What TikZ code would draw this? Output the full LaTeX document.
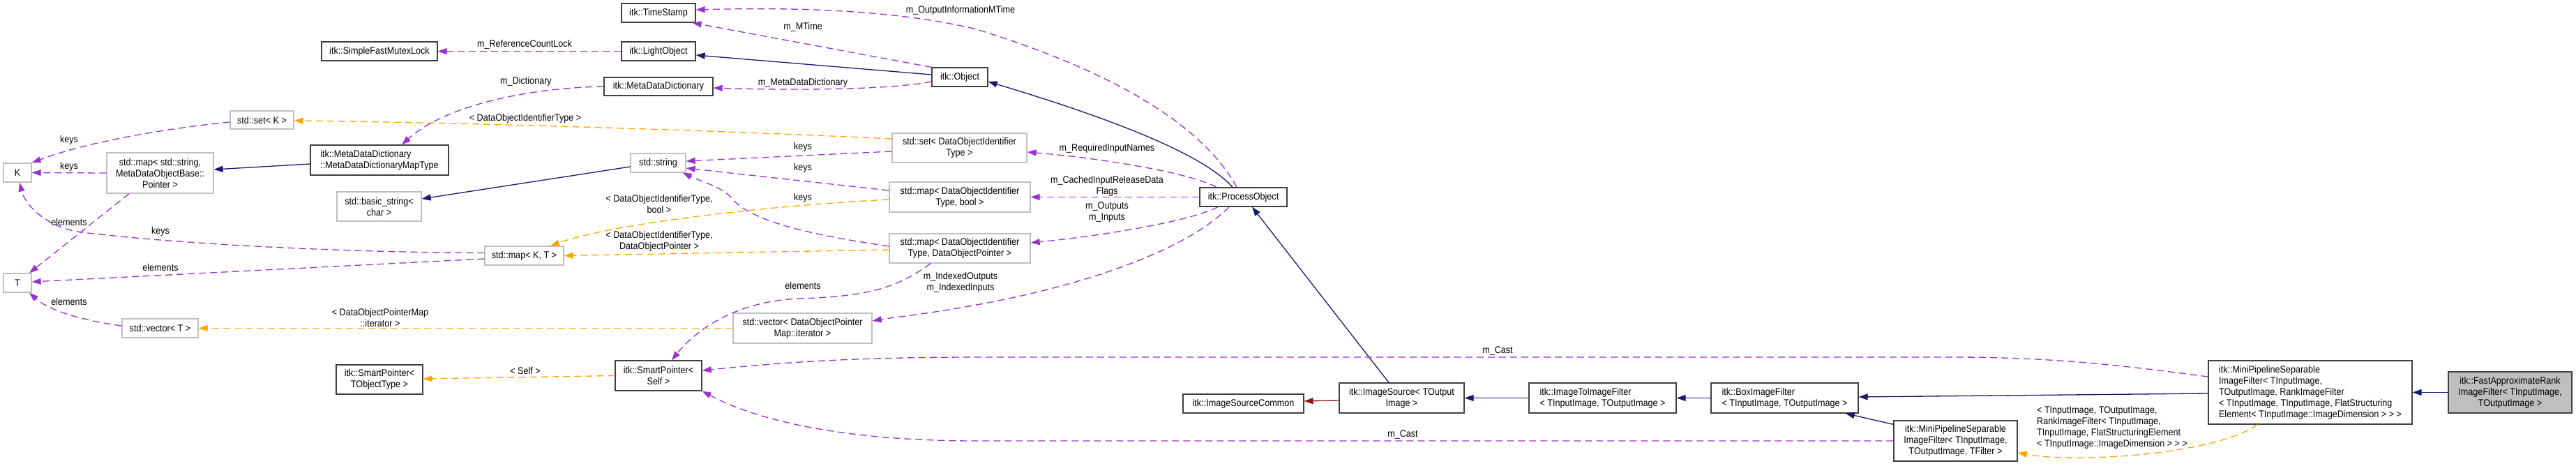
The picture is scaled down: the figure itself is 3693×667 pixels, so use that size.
\documentclass[tikz,border=0pt]{standalone}
\usepackage{fontspec}
\setmainfont{Liberation Sans}[FakeStretch=0.9]
\usetikzlibrary{arrows.meta,calc}
\definecolor{memc}{HTML}{9A32CD}
\definecolor{tplc}{HTML}{FFA500}
\definecolor{inhc}{HTML}{191970}
\definecolor{protc}{HTML}{8B1A1A}
\definecolor{grayb}{HTML}{BFBFBF}
\newcommand\dfont{\fontsize{14}{16}\selectfont}
\begin{document}
\begin{tikzpicture}[x=1pt,y=-1pt,
 cnode/.style={draw=black!75, line width=1.3pt, fill=white, inner sep=0pt, align=center, font=\dfont},
 enode/.style={cnode, draw=grayb},
 fnode/.style={cnode, fill=grayb},
 memb/.style={draw=memc, line width=1.3pt, dash pattern=on 10pt off 6pt, -{Triangle[length=13pt,width=9pt]}},
 tmpl/.style={memb, draw=tplc},
 inh/.style={draw=inhc, line width=1.3pt, -{Triangle[length=13pt,width=9pt]}},
 prot/.style={inh, draw=protc},
 elab/.style={font=\dfont, inner sep=0pt, align=center}]
\fill[white] (0,0) rectangle (3693,667);
\useasboundingbox (0,0) rectangle (3693,667);

% nodes
\node[cnode, minimum width=106pt, minimum height=27pt] (ts) at (944,18.5) {itk::TimeStamp};
\node[cnode, minimum width=106pt, minimum height=27pt] (lo) at (944,73.5) {itk::LightObject};
\node[cnode, minimum width=166pt, minimum height=27pt] (sfml) at (544,73.5) {itk::SimpleFastMutexLock};
\node[cnode, minimum width=156pt, minimum height=26pt] (mdd) at (944,124) {itk::MetaDataDictionary};
\node[cnode, minimum width=80pt, minimum height=27pt] (obj) at (1376,110.5) {itk::Object};
\node[cnode, minimum width=198pt, minimum height=43pt, align=left] (mapType) at (544,229.5) {itk::MetaDataDictionary\\::MetaDataDictionaryMapType};
\node[enode, minimum width=91pt, minimum height=26pt] (setK) at (375.5,172) {std::set< K >};
\node[enode, minimum width=40pt, minimum height=27pt] (K) at (25,247.5) {K};
\node[enode, minimum width=153pt, minimum height=58pt] (mapStr) at (229.5,248) {std::map< std::string,\\ MetaDataObjectBase::\\Pointer >};
\node[enode, minimum width=121pt, minimum height=42pt] (bstr) at (543.5,296) {std::basic\_string<\\ char >};
\node[enode, minimum width=79pt, minimum height=27pt] (str) at (943.5,233.5) {std::string};
\node[enode, minimum width=193pt, minimum height=42pt] (setD) at (1375.5,212) {std::set< DataObjectIdentifier\\Type >};
\node[enode, minimum width=202pt, minimum height=43pt] (mapB) at (1376,282.5) {std::map< DataObjectIdentifier\\Type, bool >};
\node[enode, minimum width=202pt, minimum height=42pt] (mapP) at (1376,356) {std::map< DataObjectIdentifier\\Type, DataObjectPointer >};
\node[enode, minimum width=113pt, minimum height=27pt] (mapKT) at (751.5,366.5) {std::map< K, T >};
\node[enode, minimum width=40pt, minimum height=27pt] (T) at (25,405.5) {T};
\node[enode, minimum width=109pt, minimum height=27pt] (vecT) at (229.5,470.5) {std::vector< T >};
\node[enode, minimum width=199pt, minimum height=43pt] (vecIt) at (1150.5,470.5) {std::vector< DataObjectPointer\\Map::iterator >};
\node[cnode, minimum width=124pt, minimum height=43pt] (spSelf) at (944,538.5) {itk::SmartPointer<\\ Self >};
\node[cnode, minimum width=124pt, minimum height=42pt] (spT) at (544,544) {itk::SmartPointer<\\ TObjectType >};
\node[cnode, minimum width=125pt, minimum height=27pt] (po) at (1782.5,282.5) {itk::ProcessObject};
\node[cnode, minimum width=173pt, minimum height=27pt] (isc) at (1782.5,578.5) {itk::ImageSourceCommon};
\node[cnode, minimum width=179pt, minimum height=43pt] (is) at (2009.5,570.5) {itk::ImageSource< TOutput\\Image >};
\node[cnode, minimum width=211pt, minimum height=43pt, align=left] (i2i) at (2297.5,570.5) {itk::ImageToImageFilter\\< TInputImage, TOutputImage >};
\node[cnode, minimum width=211pt, minimum height=43pt, align=left] (bif) at (2558.5,570.5) {itk::BoxImageFilter\\< TInputImage, TOutputImage >};
\node[cnode, minimum width=177pt, minimum height=58pt] (mpT) at (2803.5,632) {itk::MiniPipelineSeparable\\ImageFilter< TInputImage,\\ TOutputImage, TFilter >};
\node[cnode, minimum width=292pt, minimum height=91pt, align=left] (mpBig) at (3312,562.5) {itk::MiniPipelineSeparable\\ImageFilter< TInputImage,\\ TOutputImage, RankImageFilter\\< TInputImage, TInputImage, FlatStructuring\\Element< TInputImage::ImageDimension > > >};
\node[fnode, minimum width=177pt, minimum height=59pt] (far) at (3598.5,562.5) {itk::FastApproximateRank\\ImageFilter< TInputImage,\\ TOutputImage >};

% edges
\draw[memb] (obj.north west) -- ($(ts.south east)+(-5,0)$);
\node[elab] (l1) at (1151,39) {m\_MTime};

\draw[memb] ($(po.north)+(-9.5,0)$) .. controls (1730,190) and (1620,110) .. (1400,42) .. controls (1260,8) and (1080,12) .. ($(ts.east)+(0,-4.5)$);
\node[elab] (l2) at (1377,15) {m\_OutputInformationMTime};

\draw[memb] (lo.west) -- (sfml.east);
\node[elab] (l3) at (752,64) {m\_ReferenceCountLock};

\draw[inh] ($(obj.west)+(0,-3.5)$) -- ($(lo.east)+(0,5.5)$);

\draw[memb] ($(obj.west)+(0,6.5)$) .. controls (1280,128) and (1150,130) .. ($(mdd.east)+(0,2)$);
\node[elab] (l5) at (1151,119) {m\_MetaDataDictionary};

\draw[memb] (mdd.west) .. controls (760,126) and (640,150) .. ($(mapType.north)+(32,0)$);
\node[elab] (l6) at (754,117) {m\_Dictionary};

\draw[inh] ($(mapType.west)+(0,5.5)$) -- ($(mapStr.east)+(0,-5)$);

\draw[inh] ($(po.north)+(-15.5,0)$) .. controls (1720,215) and (1560,160) .. ($(obj.east)+(0,6.5)$);

\draw[inh] ($(str.west)+(0,5.5)$) -- ($(bstr.east)+(0,-11)$);

\draw[tmpl] ($(setD.west)+(0,-13)$) .. controls (1100,190) and (700,176) .. ($(setK.east)+(0,1)$);
\node[elab] (l10) at (753,170) {< DataObjectIdentifierType >};

\draw[memb] ($(setD.west)+(0,5)$) -- ($(str.east)+(0,-2.5)$);
\node[elab] (l11) at (1151,211) {keys};

\draw[memb] ($(mapB.west)+(0,-9.5)$) -- ($(str.east)+(0,7.5)$);
\node[elab] (l12) at (1151,241) {keys};

\draw[tmpl] ($(mapB.west)+(0,3.5)$) .. controls (1100,295) and (880,320) .. ($(mapKT.north)+(37.5,0)$);
\node[elab] (l13) at (945,292) {< DataObjectIdentifierType,\\bool >};

\draw[memb] ($(mapP.west)+(0,-3)$) .. controls (1150,335) and (1075,315) .. (1050,285) .. controls (1035,268) and (1010,262) .. ($(str.south east)+(-5,0)$);
\node[elab] (l14) at (1151,284) {keys};

\draw[tmpl] ($(mapP.west)+(0,2)$) -- (mapKT.east);
\node[elab] (l15) at (945,346) {< DataObjectIdentifierType,\\DataObjectPointer >};

\draw[memb] ($(mapP.south)+(-42,0)$) .. controls (1290,410) and (1250,425) .. (1146,428) .. controls (1060,431) and (1000,470) .. ($(spSelf.north)+(19,0)$);
\node[elab] (l16) at (1151,409) {elements};

\draw[memb] ($(mapKT.west)+(0,-4)$) .. controls (500,362) and (250,350) .. (110,332) .. controls (60,322) and (35,290) .. ($(K.south)+(3,0)$);
\node[elab] (l17) at (230,332) {keys};

\draw[memb] ($(mapKT.west)+(0,4.5)$) -- ($(T.east)+(0,-1.5)$);
\node[elab] (l18) at (230,383) {elements};

\draw[memb] (mapStr.west) -- (K.east);
\node[elab] (l19) at (99,239) {keys};

\draw[memb] ($(mapStr.south)+(-44.5,0)$) -- ($(T.north)+(17,0)$);
\node[elab] (l20) at (99,318) {elements};

\draw[memb] ($(setK.west)+(0,3)$) .. controls (230,185) and (120,205) .. (K.north east);
\node[elab] (l21) at (99,201) {keys};

\draw[memb] ($(vecT.west)+(0,-3.5)$) .. controls (120,460) and (70,445) .. ($(T.south)+(17,0)$);
\node[elab] (l22) at (99,432) {elements};

\draw[tmpl] (vecIt.west) -- (vecT.east);
\node[elab] (l23) at (545,455) {< DataObjectPointerMap\\::iterator >};

\draw[tmpl] (spSelf.west) -- ($(spT.east)+(0,-1)$);
\node[elab] (l24) at (753,531) {< Self >};

\draw[memb] ($(po.north)+(-38.5,0)$) .. controls (1700,245) and (1560,225) .. ($(setD.east)+(0,6)$);
\node[elab] (l25) at (1587,213) {m\_RequiredInputNames};

\draw[memb] (po.west) -- (mapB.east);
\node[elab] (l26) at (1587,267) {m\_CachedInputReleaseData\\Flags};

\draw[memb] ($(po.south)+(-36.5,0)$) .. controls (1700,320) and (1560,340) .. ($(mapP.east)+(0,-8)$);
\node[elab] (l27) at (1587,304) {m\_Outputs\\m\_Inputs};

\draw[memb] ($(po.south)+(-20.5,0)$) .. controls (1700,360) and (1550,410) .. (1400,437) .. controls (1330,450) and (1280,455) .. ($(vecIt.east)+(0,-10.5)$);
\node[elab] (l28) at (1377,405) {m\_IndexedOutputs\\m\_IndexedInputs};

\draw[inh] ($(is.north)+(-18.5,0)$) -- ($(po.south)+(12.5,0)$);
\draw[prot] ($(is.west)+(0,3.5)$) -- ($(isc.east)+(0,-3.5)$);
\draw[inh] (i2i.west) -- (is.east);
\draw[inh] (bif.west) -- (i2i.east);
\draw[inh] ($(mpBig.west)+(0,1.5)$) -- ($(bif.east)+(0,-1.5)$);
\draw[inh] ($(mpT.north west)+(0,6)$) -- ($(bif.south east)+(-19,0)$);
\draw[inh] (far.west) -- (mpBig.east);

\draw[memb] ($(mpBig.west)+(0,-22.5)$) .. controls (3050,525) and (2950,512) .. (2800,512) -- (1400,512) .. controls (1200,512) and (1100,522) .. ($(spSelf.east)+(0,-7.5)$);
\node[elab] (l36) at (2147,503) {m\_Cast};

\draw[memb] (mpT.west) -- (1400,632) .. controls (1200,632) and (1080,600) .. (spSelf.south east);
\node[elab] (l37) at (2011,623) {m\_Cast};

\draw[tmpl] ($(mpBig.south)+(-76,0)$) .. controls (3180,650) and (2980,665) .. ($(mpT.east)+(0,17)$);
\node[elab, align=left] (l38) at (3028,613) {< TInputImage, TOutputImage,\\RankImageFilter< TInputImage,\\TInputImage, FlatStructuringElement\\< TInputImage::ImageDimension > > >};
\end{tikzpicture}
\end{document}
